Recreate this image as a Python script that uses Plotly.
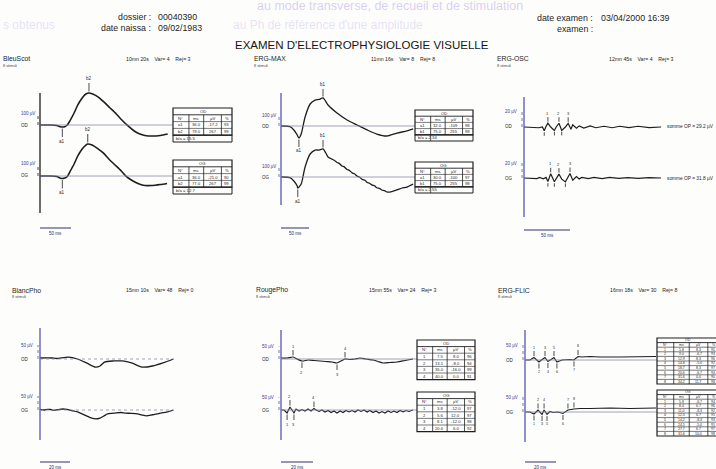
import plotly.graph_objects as go

W, H = 716, 469
FONT = "Liberation Sans, Arial, sans-serif"
INK = "#1e1e1e"
BLUE = "#5656b4"

# ---------------- BleuScot (scotopic, blue flash) ----------------
bs_t_od = [0, 16, 27, 33, 36, 40, 44, 48, 55, 61, 68, 74, 79, 85, 94, 103, 113, 123, 132, 142, 152, 161, 169, 181, 194, 206]
bs_v_od = [0, 0, -4, -15, -17.2, -14, 0, 33, 100, 167, 225, 258, 267, 258, 233, 192, 142, 92, 42, -8, -50, -75, -87, -92, -87, -75]
bs_t_og = [0, 16, 27, 33, 36, 40, 44, 48, 55, 61, 68, 74, 77, 84, 92, 102, 111, 121, 131, 140, 150, 160, 169, 181, 194, 205]
bs_v_og = [0, 0, -4, -18, -21.0, -17, -4, 33, 100, 167, 225, 258, 267, 258, 233, 192, 142, 92, 42, -8, -42, -67, -79, -79, -71, -62]
bs_names = ["a1", "b2"]
bs_ms_od = [36.0, 79.0]
bs_uv_od = [-17.2, 267.0]
bs_pct_od = [93, 99]
bs_ms_og = [36.0, 77.0]
bs_uv_og = [-21.0, 267.0]
bs_pct_og = [90, 99]

# ---------------- ERG-MAX ----------------
em_t_od = [0, 16, 23, 29, 32, 36, 43, 52, 61, 68, 75, 84, 100, 118, 136, 154, 171, 189, 207, 225, 236]
em_v_od = [0, -5, -36, -82, -109, -73, 82, 200, 236, 241, 255, 191, 118, 55, 9, -36, -73, -91, -64, -45, -27]
em_t_og = [0, 16, 23, 29, 30, 36, 43, 52, 61, 68, 75, 80, 84, 88, 91, 95, 100, 104, 109, 113, 118, 122, 127,
           131, 136, 140, 145, 150, 154, 158, 163, 167, 171, 176, 180, 185, 189, 198, 207, 216, 225, 236]
em_v_og = [0, -5, -36, -82, -100, -64, 91, 209, 245, 245, 255, 218, 182, 170, 162, 152, 132, 124, 100, 92, 68, 60, 38,
           30, 8, 0, -22, -30, -50, -57, -74, -80, -98, -104, -118, -124, -136, -132, -118, -100, -91, -64]
em_names = ["a1", "b1"]
em_ms_od = [32.0, 75.0]
em_uv_od = [-109.0, 255.0]
em_pct_od = [98, 99]
em_ms_og = [30.0, 75.0]
em_uv_og = [-100.0, 255.0]
em_pct_og = [97, 98]

# ---------------- ERG-OSC (oscillatory potentials) ----------------
op_t_od = [0, 16, 20, 22, 24, 26, 29, 33, 35, 38, 41, 45, 48, 51, 53, 57, 60, 65, 72, 78, 87, 96, 104, 114, 124, 136, 149]
op_v_od = [0, -1, 0, -5.0, 1, 5.2, 0, -4.6, 0, 5.0, -4.5, 0, 4.9, -3, 3, -1.5, 1.5, -1.5, 1.5, -1, 1, -1, 1, -0.8, 1, -0.8, 0]
op_t_og = [0, 14, 17, 21, 24, 26, 29, 33, 38, 41, 45, 50, 53, 57, 60, 63, 70, 76, 85, 93, 103, 113, 124, 136, 149]
op_v_og = [0, -0.8, 0.8, -1, 0.8, -4.8, 5.6, -5.0, 5.2, -1.5, -5.2, 6.0, -3, 2, -1.2, 0.8, -0.8, 0.8, -0.8, 0.8, -0.5, 0.5, -0.5, 0.5, 0]
op_trough_ms_od = [22, 33, 41]
op_trough_uv_od = [-5.0, -4.6, -4.5]
op_peak_ms_od = [26, 38, 48]
op_peak_uv_od = [5.2, 5.0, 4.9]
op_trough_ms_og = [26, 33, 45]
op_trough_uv_og = [-4.8, -5.0, -5.2]
op_peak_ms_og = [29, 38, 50]
op_peak_uv_og = [5.6, 5.2, 6.0]

# ---------------- BlancPho (photopic, white flash) ----------------
bp_t_od = [0, 8, 11, 19, 25, 31, 37, 40, 43, 49, 55, 61, 68, 75, 82, 89]
bp_v_od = [3.6, 3.6, 1.8, 7, 0, -14, -29, -25, -11, -7, -7, -14, -29, -25, -14, 0]
bp_t_og = [0, 3, 5, 7, 9, 12, 15, 18, 21, 25, 28, 31, 34, 37, 40, 43, 45, 48, 50, 54, 57, 61, 65, 68, 71, 75, 78, 82, 85, 89]
bp_v_og = [1.8, 0, 2.5, 1.8, -1, 1, 3.6, 2, -2, -7, -14, -21, -28, -32, -29, -20, -14, -12, -11, -9, -11, -12, -14, -18, -21, -17, -14, -9, -7, 0]

# ---------------- RougePho (photopic, red flash) ----------------
rp_t_od = [0, 3.8, 7.5, 10, 13.1, 16.9, 20.6, 24.4, 28.1, 31.9, 35, 37.5, 40, 43.1, 46.3, 49.4, 53.1, 57.5, 60.6, 63.8, 68.1, 72.5, 77.5, 82.5]
rp_v_od = [4, 4, 8, 0, -8, -4, -6, -8, -10, -12, -16, -8, 0, -2, 0, 4, 0, -4, -10, -16, -14, -12, -6, 0]
rp_t_og = [0, 1.9, 3.8, 5.6, 8.1, 9.4, 11.3, 13.1, 15, 16.9, 18.8, 20.6, 21.9, 23.8, 25.6, 27.5, 29.4, 31.3, 33.1, 35,
           36.9, 38.8, 40.6, 42.5, 44.4, 46.3, 48.1, 50, 51.9, 53.8, 55.6, 57.5, 59.4, 61.3, 63.1, 65, 66.9, 68.8, 70.6,
           72.5, 74.4, 76.3, 78.1, 80, 82.5]
rp_v_og = [0, 0, -12, 12, -12, 4, -4, 2, -4, 4, -4, 6, 0, -6, 0, -8, -2, -10, -4, -12, -4, -10, -2, -8, -2, -8, 0, -6,
           0, -8, -2, -10, -4, -12, -6, -12, -4, -10, -4, -10, -2, -8, -2, -6, 0]
rp_names = ["1", "2", "3", "4"]
rp_ms_od = [7.5, 13.1, 35.0, 40.0]
rp_uv_od = [8.0, -8.0, -16.0, 0.0]
rp_pct_od = [96, 94, 99, 91]
rp_dir_od = [1, -1, -1, 1]
rp_ms_og = [3.8, 5.6, 8.1, 20.6]
rp_uv_og = [-12.0, 12.0, -12.0, 6.0]
rp_pct_og = [97, 97, 98, 92]
rp_dir_og = [-1, 1, -1, 1]

# ---------------- ERG-FLIC (30 Hz flicker) ----------------
fl_t_od = [0, 3.2, 5.8, 9.0, 11.0, 12.9, 14.8, 16.8, 18.7, 20.6, 23.9, 29.0, 31.6, 34.2, 36.8, 41.9, 48.4, 61.3, 74.2, 84.5]
fl_v_od = [0, 0, 8.3, -6.7, 1.7, 8.3, -5.0, 3.3, 8.3, -6.7, 0, 1.7, 0, 11.7, 10.0, 11.7, 10.0, 10.0, 11.7, 11.7]
fl_t_og = [0, 3.2, 5.8, 8.4, 11.0, 12.3, 14.2, 16.1, 18.1, 21.3, 24.5, 27.7, 31.6, 35.5, 41.9, 54.8, 67.7, 84.5]
fl_v_og = [0, 0, -6.7, 6.7, -8.3, 6.7, -8.3, 1.7, -1.7, 0, -5.0, 6.7, 10.0, 11.7, 11.7, 13.3, 11.7, 13.3]
fl_names = ["1", "2", "3", "4", "5", "6", "7", "8"]
fl_ms_od = [5.8, 9.0, 12.9, 14.8, 18.7, 20.6, 31.6, 34.2]
fl_uv_od = [8.3, -6.7, 8.3, -5.0, 8.3, -6.7, 0.0, 11.7]
fl_pct_od = [95, 93, 96, 92, 97, 94, 90, 98]
fl_dir_od = [1, -1, 1, -1, 1, -1, -1, 1]
fl_ms_og = [5.8, 8.4, 11.0, 12.3, 14.2, 24.5, 27.7, 31.6]
fl_uv_og = [-6.7, 6.7, -8.3, 6.7, -8.3, -5.0, 6.7, 10.0]
fl_pct_og = [94, 96, 92, 95, 93, 91, 97, 98]
fl_dir_og = [-1, 1, -1, 1, -1, -1, 1, 1]

# ---------------- header / panel captions ----------------
header_left = [("dossier :", "00040390"), ("date naissa :", "09/02/1983")]
header_right = [("date examen :", "03/04/2000 16:39"), ("examen :", "")]
report_title = "EXAMEN D'ELECTROPHYSIOLOGIE VISUELLE"
panel_names = ["BleuScot", "ERG-MAX", "ERG-OSC", "BlancPho", "RougePho", "ERG-FLIC"]
panel_info = ["10mn 20s    Var= 4    Rej= 3", "11mn 16s    Var= 8    Rej= 8", "12mn 45s    Var= 4    Rej= 3",
              "15mn 10s    Var= 48    Rej= 0", "15mn 55s    Var= 24    Rej= 3", "16mn 18s    Var= 30    Rej= 8"]
stim_text = "8 stimuli"

# =====================================================================
fig = go.Figure()
shapes, annots, lay = [], [], {}


def P(x):
    return x / W


def Q(y):
    return 1 - y / H


def refs(i):
    return ("x" if i == 1 else f"x{i}", "y" if i == 1 else f"y{i}")


def keys(i):
    return ("xaxis" if i == 1 else f"xaxis{i}", "yaxis" if i == 1 else f"yaxis{i}")


def seg(x0, y0, x1, y1, color=INK, width=1.0, dash="solid"):
    shapes.append(dict(type="line", xref="paper", yref="paper", x0=P(x0), y0=Q(y0), x1=P(x1), y1=Q(y1),
                       line=dict(color=color, width=width, dash=dash)))


def txt(x, y, s, size=5.0, color="#2a2a2a", anchor="left"):
    annots.append(dict(xref="paper", yref="paper", x=P(x), y=Q(y), text=s, showarrow=False, xanchor=anchor,
                       yanchor="middle", borderpad=0, font=dict(size=size, color=color, family=FONT)))


def trace(i, ax_x, kx, base, ky, t, v, shape="spline", width=1.3):
    xn, yn = refs(i)
    kx_, ky_ = keys(i)
    span = 185
    lay[kx_] = dict(domain=[P(ax_x), P(ax_x + span)], range=[0, span / kx], visible=False, anchor=yn, fixedrange=True)
    lay[ky_] = dict(domain=[Q(base + 32), Q(base - 55)], range=[-32 / ky, 55 / ky], visible=False, anchor=xn,
                    fixedrange=True)
    fig.add_trace(go.Scatter(x=t, y=v, xaxis=xn, yaxis=yn, mode="lines", hoverinfo="skip", showlegend=False,
                             line=dict(color=INK, width=width, shape=shape, smoothing=0.7)))


def marks(i, names, ms, uv, dirs, off=12, size=4.5):
    xn, yn = refs(i)
    for n, t, v, d in zip(names, ms, uv, dirs):
        annots.append(dict(xref=xn, yref=yn, x=t, y=v, text=n, showarrow=True, arrowhead=0, arrowwidth=0.8,
                           arrowcolor=INK, ax=0, ay=-off if d > 0 else off, standoff=1.5,
                           font=dict(size=size, color=INK, family=FONT)))


def frame(i_od, i_og, ax_x, ax_top, ax_bot, ax_color, scale_uv, scale_lbl, ref_end, ref_dash,
          bar_ms, bar_lbl, bar_y):
    seg(ax_x, ax_top, ax_x, ax_bot, color=ax_color, width=1.3)
    for i, eye in ((i_od, "OD"), (i_og, "OG")):
        xn, yn = refs(i)
        if ref_end:
            shapes.append(dict(type="line", xref="paper", yref=yn, x0=P(ax_x), x1=P(ref_end), y0=0, y1=0,
                               line=dict(color="#8c8cac", width=0.8, dash=ref_dash)))
        shapes.append(dict(type="line", xref="paper", yref=yn, x0=P(ax_x - 2), x1=P(ax_x - 2), y0=0, y1=scale_uv,
                           line=dict(color=ax_color, width=0.8, dash="dot")))
        annots.append(dict(xref="paper", yref=yn, x=P(ax_x - 21), y=scale_uv, text=scale_lbl, showarrow=False,
                           xanchor="left", yanchor="middle", font=dict(size=4.5, color="#3a3a9a", family=FONT)))
        annots.append(dict(xref="paper", yref=yn, x=P(ax_x - 21), y=0, text=eye, showarrow=False,
                           xanchor="left", yanchor="middle", font=dict(size=4.5, color=INK, family=FONT)))
    xn, _ = refs(i_og)
    shapes.append(dict(type="line", xref=xn, yref="paper", x0=0, x1=bar_ms, y0=Q(bar_y), y1=Q(bar_y),
                       line=dict(color="#30306a", width=1.0)))
    annots.append(dict(xref=xn, yref="paper", x=bar_ms / 2, y=Q(bar_y + 5), text=bar_lbl, showarrow=False,
                       xanchor="center", yanchor="middle", font=dict(size=4.5, color="#30306a", family=FONT)))


def table(x0, y0, w, rh, title, names, ms, uv, pct, footer=None, fs=4.2):
    cols = [0, 0.27, 0.52, 0.82, 1.0]
    nrow = 2 + len(names)
    y1 = y0 + rh * nrow
    shapes.append(dict(type="rect", xref="paper", yref="paper", x0=P(x0), y0=Q(y1), x1=P(x0 + w), y1=Q(y0),
                       line=dict(color=INK, width=1.2), fillcolor="white"))
    for k in range(1, nrow):
        seg(x0, y0 + rh * k, x0 + w, y0 + rh * k, width=0.6 if k > 1 else 0.9)
    for c in cols[1:-1]:
        seg(x0 + c * w, y0 + rh, x0 + c * w, y1, width=0.8)
    txt(x0 + w / 2, y0 + rh / 2, title, size=fs, anchor="center")
    centers = [x0 + (cols[j] + cols[j + 1]) / 2 * w for j in range(4)]
    for cx, h in zip(centers, ["N°", "ms", "µV", "%"]):
        txt(cx, y0 + rh * 1.5, h, size=fs, anchor="center")
    for r, (n, t, v, p) in enumerate(zip(names, ms, uv, pct)):
        yy = y0 + rh * (2.5 + r)
        vals = [n, f"{t:.1f}", f"{v:.0f}" if abs(v) >= 100 else f"{v:.1f}", f"{p}"]
        for cx, s in zip(centers, vals):
            txt(cx, yy, s, size=fs, anchor="center")
    if footer:
        shapes.append(dict(type="rect", xref="paper", yref="paper", x0=P(x0), y0=Q(y1 + rh), x1=P(x0 + w),
                           y1=Q(y1), line=dict(color=INK, width=1.0)))
        seg(x0 + 0.27 * w, y1, x0 + 0.27 * w, y1 + rh, width=0.7)
        txt(x0 + 2, y1 + rh / 2, footer, size=fs)


# ---- faint show-through from the reverse side of the sheet ----
txt(256, 6, "au mode transverse, de recueil et de stimulation", size=12.5, color="rgba(172,150,222,0.45)")
txt(2, 25, "s obtenus", size=12, color="rgba(172,150,222,0.28)")
txt(232, 25, "au Ph de référence d'une amplitude", size=12, color="rgba(172,150,222,0.28)")

# ---- header ----
for (lbl, val), y in zip(header_left, (17, 28)):
    txt(152, y, lbl, size=8.8, anchor="right", color=INK)
    txt(157, y, val, size=8.8, color=INK)
for (lbl, val), y in zip(header_right, (18, 29)):
    txt(594, y, lbl, size=8.8, anchor="right", color=INK)
    txt(600, y, val, size=8.8, color=INK)
txt(362, 45, report_title, size=11.5, anchor="center", color="#151515")

# ---- panel captions ----
cap = [(2, 125, 59), (253, 370, 59), (496, 608, 59), (11, 125, 290), (255, 368, 290), (497, 609, 290)]
for (xn_, xi, yc), name, info in zip(cap, panel_names, panel_info):
    txt(xn_, yc, name, size=6.8, color=INK)
    txt(xn_, yc + 7, stim_text, size=3.8, color="#444")
    txt(xi, yc, info, size=5.2, color=INK)

# ---- BleuScot ----
trace(1, 40, 0.62, 125, 0.12, bs_t_od, bs_v_od, width=1.6)
trace(2, 40, 0.62, 176, 0.12, bs_t_og, bs_v_og, width=1.6)
frame(1, 2, 40, 93, 213, INK, 100, "100 µV", 173, "solid", 50, "50 ms", 228)
marks(1, bs_names, bs_ms_od, bs_uv_od, [-1, 1], off=14)
marks(2, bs_names, bs_ms_og, bs_uv_og, [-1, 1], off=14)
table(173, 108, 59, 6.8, "OD", bs_names, bs_ms_od, bs_uv_od, bs_pct_od,
      footer=f"b/a = {bs_uv_od[1] / abs(bs_uv_od[0]):.1f}")
table(173, 160, 59, 6.8, "OG", bs_names, bs_ms_og, bs_uv_og, bs_pct_og,
      footer=f"b/a = {bs_uv_og[1] / abs(bs_uv_og[0]):.1f}")

# ---- ERG-MAX ----
trace(3, 281, 0.56, 126, 0.11, em_t_od, em_v_od, width=1.3)
trace(4, 281, 0.56, 177, 0.11, em_t_og, em_v_og, width=1.3)
frame(3, 4, 281, 93, 205, BLUE, 100, "100 µV", 415, "solid", 50, "50 ms", 228)
marks(3, em_names, em_ms_od, em_uv_od, [-1, 1], off=13)
marks(4, em_names, em_ms_og, em_uv_og, [-1, 1], off=13)
table(415, 110, 58, 6.2, "OD", em_names, em_ms_od, em_uv_od, em_pct_od,
      footer=f"b/a = {em_uv_od[1] / abs(em_uv_od[0]):.2f}")
table(415, 162, 58, 6.2, "OG", em_names, em_ms_og, em_uv_og, em_pct_og,
      footer=f"b/a = {em_uv_og[1] / abs(em_uv_og[0]):.2f}")

# ---- ERG-OSC ----
trace(5, 524, 0.92, 127, 0.75, op_t_od, op_v_od, shape="linear", width=1.2)
trace(6, 524, 0.92, 178, 0.75, op_t_og, op_v_og, shape="linear", width=1.2)
frame(5, 6, 524, 97, 217, BLUE, 20, "20 µV", None, "solid", 50, "50 ms", 230)
for i, pm, pv, tm, tv in ((5, op_peak_ms_od, op_peak_uv_od, op_trough_ms_od, op_trough_uv_od),
                          (6, op_peak_ms_og, op_peak_uv_og, op_trough_ms_og, op_trough_uv_og)):
    marks(i, ["1", "2", "3"], pm, pv, [1, 1, 1], off=10, size=4)
    marks(i, [" ", " ", " "], tm, tv, [-1, -1, -1], off=9, size=4)
    total = sum(p - t for p, t in zip(pv, tv))
    _, yn = refs(i)
    annots.append(dict(xref="paper", yref=yn, x=P(665), y=0, text=f"somme OP = {total:.1f} µV", showarrow=False,
                       xanchor="left", yanchor="middle", font=dict(size=4.8, color=INK, family=FONT)))

# ---- BlancPho ----
trace(7, 40, 1.5, 359, 0.28, bp_t_od, bp_v_od, width=1.3)
trace(8, 40, 1.5, 410, 0.28, bp_t_og, bp_v_og, width=1.3)
frame(7, 8, 40, 328, 440, BLUE, 50, "50 µV", 173, "dot", 20, "20 ms", 462)

# ---- RougePho ----
trace(9, 281, 1.6, 359, 0.25, rp_t_od, rp_v_od, width=1.2)
trace(10, 281, 1.6, 410, 0.25, rp_t_og, rp_v_og, shape="linear", width=1.1)
frame(9, 10, 281, 330, 440, BLUE, 50, "50 µV", 417, "solid", 20, "20 ms", 462)
marks(9, rp_names, rp_ms_od, rp_uv_od, rp_dir_od, off=11, size=4)
marks(10, rp_names, rp_ms_og, rp_uv_og, rp_dir_og, off=11, size=4)
table(417, 340, 58, 6.6, "OD", rp_names, rp_ms_od, rp_uv_od, rp_pct_od)
table(417, 392, 58, 6.6, "OG", rp_names, rp_ms_og, rp_uv_og, rp_pct_og)

# ---- ERG-FLIC ----
trace(11, 525, 1.55, 360, 0.3, fl_t_od, fl_v_od, shape="linear", width=1.1)
trace(12, 525, 1.55, 412, 0.3, fl_t_og, fl_v_og, shape="linear", width=1.1)
frame(11, 12, 525, 330, 442, BLUE, 50, "50 µV", 657, "solid", 20, "20 ms", 462)
marks(11, fl_names, fl_ms_od, fl_uv_od, fl_dir_od, off=10, size=3.6)
marks(12, fl_names, fl_ms_og, fl_uv_og, fl_dir_og, off=10, size=3.6)
table(657, 338, 62, 4.6, "OD", fl_names, fl_ms_od, fl_uv_od, fl_pct_od, fs=3.5)
table(657, 390, 62, 4.6, "OG", fl_names, fl_ms_og, fl_uv_og, fl_pct_og, fs=3.5)

fig.update_layout(width=W, height=H, margin=dict(l=0, r=0, t=0, b=0), paper_bgcolor="#fdfdfc",
                  plot_bgcolor="rgba(0,0,0,0)", showlegend=False, shapes=shapes, annotations=annots,
                  font=dict(family=FONT), **lay)
fig.write_html("out.html")
